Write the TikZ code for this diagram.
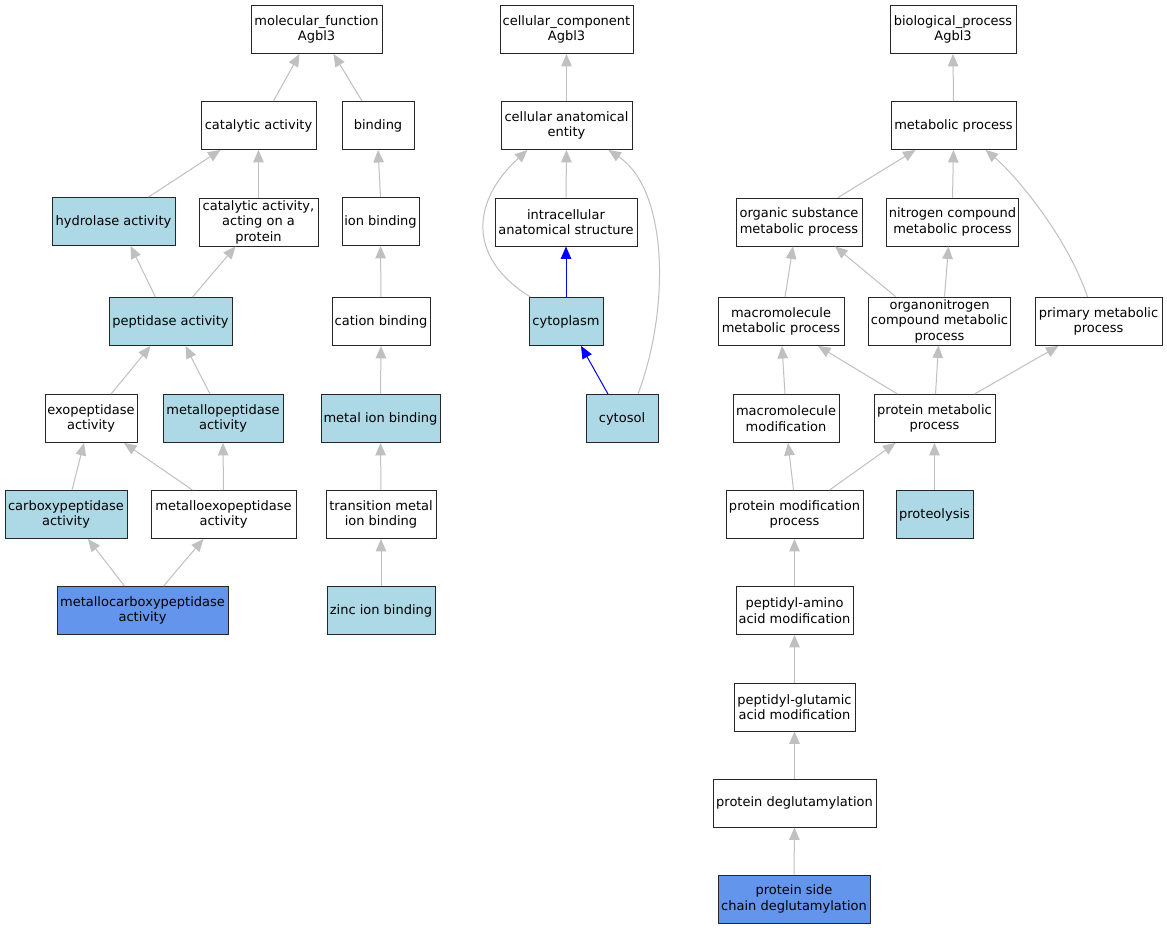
\documentclass[tikz,border=0pt]{standalone}
\usepackage{fontspec}
\setmainfont{DejaVu Sans}
\usetikzlibrary{arrows.meta}
\definecolor{lb}{HTML}{ADD8E6}
\definecolor{cb}{HTML}{6495ED}
\definecolor{eg}{HTML}{C0C0C0}
\begin{document}
\begin{tikzpicture}[x=1pt,y=-1pt,
  box/.style={draw=black!85,line width=0.9pt,fill=white,minimum height=48pt,inner sep=2pt,align=center,font=\fontsize{13}{15.5}\selectfont},
  lbox/.style={box,fill=lb},
  cbox/.style={box,fill=cb},
  edge/.style={draw=eg,line width=1pt,-{Triangle[length=12.5pt,width=10.5pt]}},
  bedge/.style={draw=blue,line width=1pt,-{Triangle[length=12.5pt,width=10.5pt]}}]
\useasboundingbox[fill=white] (0,0) rectangle (1167,928);
% molecular function
\node[box,minimum width=131] (mf) at (316.5,29.5) {molecular\_function\\Agbl3};
\node[box,minimum width=115] (cat) at (258.5,125.5) {catalytic activity};
\node[box,minimum width=72] (bind) at (378,125.5) {binding};
\node[lbox,minimum width=123] (hyd) at (113.5,221.5) {hydrolase activity};
\node[box,minimum width=119] (catp) at (258.5,222) {catalytic activity,\\acting on a\\protein};
\node[box,minimum width=77] (ion) at (380.5,221.5) {ion binding};
\node[lbox,minimum width=123] (pep) at (170.5,321.5) {peptidase activity};
\node[box,minimum width=98] (cation) at (381,321.5) {cation binding};
\node[box,minimum width=92] (exo) at (91,418.5) {exopeptidase\\activity};
\node[lbox,minimum width=120] (mp) at (223,418.5) {metallopeptidase\\activity};
\node[lbox,minimum width=119] (mion) at (380.5,418.5) {metal ion binding};
\node[lbox,minimum width=122] (carb) at (66,514.5) {carboxypeptidase\\activity};
\node[box,minimum width=145] (mexo) at (223.5,514.5) {metalloexopeptidase\\activity};
\node[box,minimum width=110] (trans) at (381,514.5) {transition metal\\ion binding};
\node[cbox,minimum width=171] (mc) at (142.5,610.5) {metallocarboxypeptidase\\activity};
\node[lbox,minimum width=108] (zinc) at (381,610.5) {zinc ion binding};
% cellular component
\node[box,minimum width=133] (cc) at (566.5,29.5) {cellular\_component\\Agbl3};
\node[box,minimum width=131] (cae) at (566.5,125.5) {cellular anatomical\\entity};
\node[box,minimum width=142] (ias) at (566,222) {intracellular\\anatomical structure};
\node[lbox,minimum width=74] (cyto) at (566,321.5) {cytoplasm};
\node[lbox,minimum width=72] (cytosol) at (622,418.5) {cytosol};
% biological process
\node[box,minimum width=126] (bp) at (953,29.5) {biological\_process\\Agbl3};
\node[box,minimum width=125] (metab) at (953.5,125.5) {metabolic process};
\node[box,minimum width=126] (osmp) at (799,222) {organic substance\\metabolic process};
\node[box,minimum width=131] (ncmp) at (952.5,222) {nitrogen compound\\metabolic process};
\node[box,minimum width=126] (mmp) at (781,321.5) {macromolecule\\metabolic process};
\node[box,minimum width=141] (onc) at (939.5,321) {organonitrogen\\compound metabolic\\process};
\node[box,minimum width=127] (pmp) at (1098.5,321.5) {primary metabolic\\process};
\node[box,minimum width=106] (mm) at (786,418.5) {macromolecule\\modification};
\node[box,minimum width=121] (pm) at (934.5,418.5) {protein metabolic\\process};
\node[box,minimum width=137] (pmod) at (794.5,514.5) {protein modification\\process};
\node[lbox,minimum width=77] (prot) at (934.5,514.5) {proteolysis};
\node[box,minimum width=117] (pam) at (794.5,610.5) {peptidyl-amino\\acid modification};
\node[box,minimum width=121] (pgm) at (794.5,707) {peptidyl-glutamic\\acid modification};
\node[box,minimum width=163] (pdg) at (794.5,803) {protein deglutamylation};
\node[cbox,minimum width=152] (pscd) at (794,899) {protein side\\chain deglutamylation};
% edges MF
\draw[edge] ([xshift=15]cat.north) -- ([xshift=-17]mf.south);
\draw[edge] ([xshift=-16]bind.north) -- ([xshift=17]mf.south);
\draw[edge] ([xshift=35]hyd.north) -- ([xshift=-38]cat.south);
\draw[edge] (catp.north) -- (cat.south);
\draw[edge] (ion.north) -- (bind.south);
\draw[edge] ([xshift=-15]pep.north) -- ([xshift=17]hyd.south);
\draw[edge] ([xshift=22]pep.north) -- ([xshift=-23]catp.south);
\draw[edge] (cation.north) -- (ion.south);
\draw[edge] ([xshift=20]exo.north) -- ([xshift=-20]pep.south);
\draw[edge] ([xshift=-13]mp.north) -- ([xshift=15]pep.south);
\draw[edge] (mion.north) -- (cation.south);
\draw[edge] ([xshift=6]carb.north) -- ([xshift=-7]exo.south);
\draw[edge] ([xshift=-31]mexo.north) -- ([xshift=33]exo.south);
\draw[edge] (mexo.north) -- (mp.south);
\draw[edge] (trans.north) -- (mion.south);
\draw[edge] ([xshift=-18]mc.north) -- ([xshift=22]carb.south);
\draw[edge] ([xshift=21]mc.north) -- ([xshift=-20]mexo.south);
\draw[edge] (zinc.north) -- (trans.south);
% edges CC
\draw[edge] (cae.north) -- (cc.south);
\draw[edge] (ias.north) -- (cae.south);
\draw[bedge] (cyto.north) -- (ias.south);
\draw[edge] ([xshift=2]cyto.north west) .. controls +(-65,-40) and +(-55,50) .. ([xshift=-39]cae.south);
\draw[bedge] ([xshift=-14]cytosol.north) -- ([xshift=15]cyto.south);
\draw[edge] ([xshift=16]cytosol.north) .. controls +(32,-85) and +(60,40) .. ([xshift=42]cae.south);
% edges BP
\draw[edge] (metab.north) -- (bp.south);
\draw[edge] ([xshift=39]osmp.north) -- ([xshift=-38]metab.south);
\draw[edge] (ncmp.north) -- (metab.south);
\draw[edge] ([xshift=-11]pmp.north) .. controls +(-20,-60) and +(30,25) .. ([xshift=32]metab.south);
\draw[edge] ([xshift=4]mmp.north) -- ([xshift=-6]osmp.south);
\draw[edge] ([xshift=-44]onc.north) -- ([xshift=36]osmp.south);
\draw[edge] ([xshift=5]onc.north) -- ([xshift=-4]ncmp.south);
\draw[edge] ([xshift=-1]mm.north) -- ([xshift=1]mmp.south);
\draw[edge] ([xshift=-37]pm.north) -- ([xshift=37]mmp.south);
\draw[edge] ([xshift=1]pm.north) -- ([xshift=-1]onc.south);
\draw[edge] ([xshift=40]pm.north) -- ([xshift=-40]pmp.south);
\draw[edge] ([xshift=-1]pmod.north) -- ([xshift=2]mm.south);
\draw[edge] ([xshift=35]pmod.north) -- ([xshift=-39]pm.south);
\draw[edge] (prot.north) -- (pm.south);
\draw[edge] (pam.north) -- (pmod.south);
\draw[edge] (pgm.north) -- (pam.south);
\draw[edge] (pdg.north) -- (pgm.south);
\draw[edge] (pscd.north) -- (pdg.south);
\end{tikzpicture}
\end{document}
